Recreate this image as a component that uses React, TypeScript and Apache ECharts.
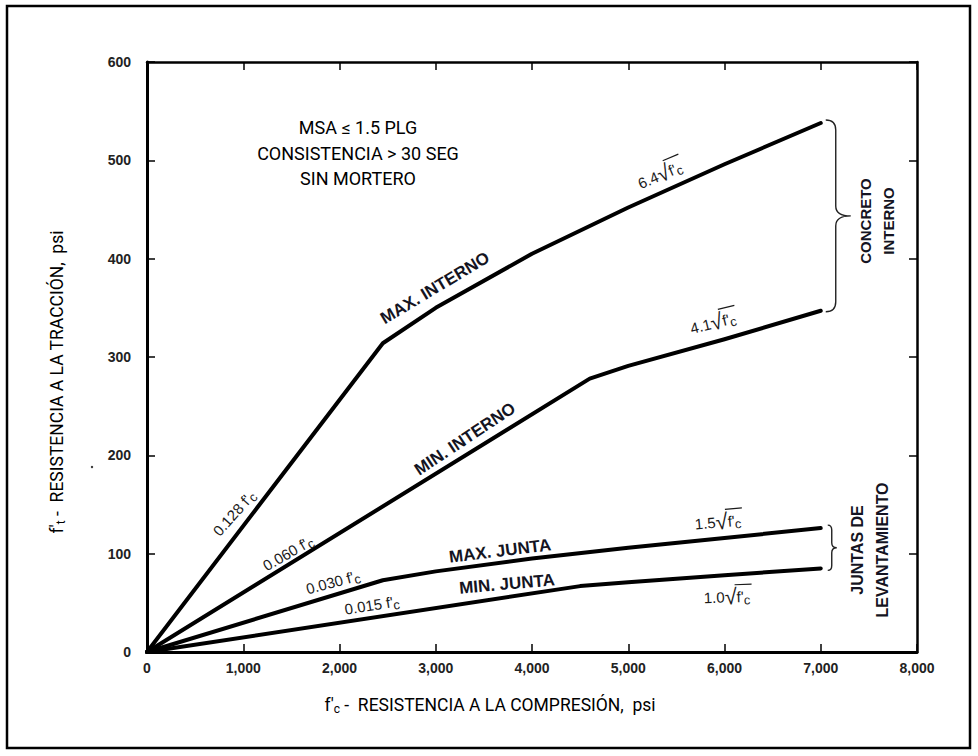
import React, { useEffect, useRef } from "react";
import * as echarts from "echarts";

// ---- data ----
const xTicks = [0, 1000, 2000, 3000, 4000, 5000, 6000, 7000, 8000];
const xTickLabels = ["0", "1,000", "2,000", "3,000", "4,000", "5,000", "6,000", "7,000", "8,000"];
const yTicks = [0, 100, 200, 300, 400, 500, 600];
const yTickLabels = ["0", "100", "200", "300", "400", "500", "600"];

const maxInternoFc = [0, 2450, 3000, 4000, 5000, 6000, 7000];
const maxInternoFt = [0, 314, 350, 405, 452, 496, 538];
const minInternoFc = [0, 4600, 5000, 6000, 7000];
const minInternoFt = [0, 278, 291, 318, 347];
const maxJuntaFc = [0, 2450, 3000, 4000, 5000, 6000, 7000];
const maxJuntaFt = [0, 73, 82, 95, 106, 116, 126];
const minJuntaFc = [0, 4500, 5000, 6000, 7000];
const minJuntaFt = [0, 67, 71, 78, 85];

const SANS = "'Liberation Sans Narrow', 'Roboto', 'Noto Sans', sans-serif";
const ARIAL = "'Liberation Sans', Arial, Helvetica, sans-serif";
const INK = "#141422";

const pair = (xs: number[], ys: number[]) => xs.map((x, i) => [x, ys[i]]);

function lineSeries(name: string, xs: number[], ys: number[]) {
  return {
    name,
    type: "line",
    data: pair(xs, ys),
    symbol: "none",
    showSymbol: false,
    silent: true,
    lineStyle: { color: "#000", width: 4, cap: "round", join: "round" },
    z: 5,
  };
}

function fcLabel(cx: number, cy: number, deg: number, coef: string) {
  return {
    type: "text",
    x: cx,
    y: cy,
    rotation: (deg * Math.PI) / 180,
    style: {
      text: `{n|${coef} f'}{s|c}`,
      rich: {
        n: { fontSize: 15, fontFamily: ARIAL, fill: "#1a1a1a" },
        s: { fontSize: 13, fontFamily: ARIAL, fill: "#1a1a1a", padding: [7, 0, 0, 0] },
      },
      align: "center",
      verticalAlign: "middle",
    },
    z: 10,
  };
}

function sqrtLabel(cx: number, cy: number, deg: number, coef: string) {
  return {
    type: "group",
    x: cx,
    y: cy,
    rotation: (deg * Math.PI) / 180,
    z: 10,
    children: [
      {
        type: "text",
        x: 0,
        y: 0,
        style: {
          text: `{n|${coef}}{r|√}{f|f'}{s|c}`,
          rich: {
            n: { fontSize: 15, fontFamily: ARIAL, fill: "#1a1a1a" },
            r: { fontSize: 22, fontFamily: ARIAL, fill: "#1a1a1a" },
            f: { fontSize: 15, fontFamily: ARIAL, fill: "#1a1a1a" },
            s: { fontSize: 13, fontFamily: ARIAL, fill: "#1a1a1a", padding: [7, 0, 0, 0] },
          },
          align: "center",
          verticalAlign: "middle",
        },
      },
      {
        type: "line",
        shape: { x1: 8, y1: -12, x2: 25, y2: -12 },
        style: { stroke: "#1a1a1a", lineWidth: 1.2 },
      },
    ],
  };
}

function boldLabel(cx: number, cy: number, deg: number, text: string, size = 17) {
  return {
    type: "text",
    x: cx,
    y: cy,
    rotation: (deg * Math.PI) / 180,
    style: {
      text,
      fontSize: size,
      fontWeight: "bold",
      fontFamily: ARIAL,
      fill: INK,
      align: "center",
      verticalAlign: "middle",
    },
    z: 10,
  };
}

function bracePath(x0: number, y1: number, y2: number, w: number, tip: number, r: number) {
  const m = (y1 + y2) / 2;
  return (
    `M ${x0} ${y1} Q ${x0 + w} ${y1} ${x0 + w} ${y1 + r} ` +
    `L ${x0 + w} ${m - r} Q ${x0 + w} ${m} ${x0 + w + tip} ${m} ` +
    `Q ${x0 + w} ${m} ${x0 + w} ${m + r} ` +
    `L ${x0 + w} ${y2 - r} Q ${x0 + w} ${y2} ${x0} ${y2}`
  );
}

const mkTick = () => ({ show: true, inside: true, length: 8, lineStyle: { color: "#000", width: 1.5 } });

export default function App() {
  const ref = useRef<HTMLDivElement>(null);

  useEffect(() => {
    const chart = echarts.init(ref.current!, null, { renderer: "svg" });

    const option: any = {
      animation: false,
      backgroundColor: "#fff",
      grid: { left: 147, right: 61, top: 62, bottom: 104, containLabel: false },
      xAxis: [
        {
          type: "value",
          min: 0,
          max: 8000,
          interval: 1000,
          position: "bottom",
          axisLine: { show: true, onZero: false, lineStyle: { color: "#000", width: 3 } },
          axisTick: mkTick(),
          splitLine: { show: false },
          axisLabel: {
            margin: 9,
            fontSize: 14,
            fontWeight: "bold",
            fontFamily: ARIAL,
            color: "#222",
            formatter: (v: number) => xTickLabels[xTicks.indexOf(v)] ?? "",
          },
        },
        {
          type: "value",
          min: 0,
          max: 8000,
          interval: 1000,
          position: "top",
          axisLine: { show: true, onZero: false, lineStyle: { color: "#000", width: 2.5 } },
          axisTick: mkTick(),
          splitLine: { show: false },
          axisLabel: { show: false },
        },
      ],
      yAxis: [
        {
          type: "value",
          min: 0,
          max: 600,
          interval: 100,
          position: "left",
          axisLine: { show: true, onZero: false, lineStyle: { color: "#000", width: 3 } },
          axisTick: mkTick(),
          splitLine: { show: false },
          axisLabel: {
            margin: 16,
            fontSize: 14,
            fontWeight: "bold",
            fontFamily: ARIAL,
            color: "#222",
            formatter: (v: number) => yTickLabels[yTicks.indexOf(v)] ?? "",
          },
        },
        {
          type: "value",
          min: 0,
          max: 600,
          interval: 100,
          position: "right",
          axisLine: { show: true, onZero: false, lineStyle: { color: "#000", width: 2.5 } },
          axisTick: mkTick(),
          splitLine: { show: false },
          axisLabel: { show: false },
        },
      ],
      series: [
        lineSeries("MAX. INTERNO", maxInternoFc, maxInternoFt),
        lineSeries("MIN. INTERNO", minInternoFc, minInternoFt),
        lineSeries("MAX. JUNTA", maxJuntaFc, maxJuntaFt),
        lineSeries("MIN. JUNTA", minJuntaFc, minJuntaFt),
      ],
    };
    chart.setOption(option);

    const px = (x: number, y: number) =>
      chart.convertToPixel({ xAxisIndex: 0, yAxisIndex: 0 }, [x, y]) as number[];
    const last = (a: number[]) => a[a.length - 1];
    const pMaxI = px(last(maxInternoFc), last(maxInternoFt));
    const pMinI = px(last(minInternoFc), last(minInternoFt));
    const pMaxJ = px(last(maxJuntaFc), last(maxJuntaFt));
    const pMinJ = px(last(minJuntaFc), last(minJuntaFt));

    echarts.graphic.registerShape(
      "braceConcreto",
      echarts.graphic.extendPath(
        bracePath(Math.max(pMaxI[0], pMinI[0]) + 5, pMaxI[1] - 3, pMinI[1] + 1, 10, 15, 10),
        {}
      ) as any
    );
    echarts.graphic.registerShape(
      "braceJuntas",
      echarts.graphic.extendPath(
        bracePath(Math.max(pMaxJ[0], pMinJ[0]) + 7, pMaxJ[1] - 3, pMinJ[1] + 2, 4, 5, 5),
        {}
      ) as any
    );

    const graphic: any[] = [
      {
        type: "rect",
        shape: { x: 7, y: 6, width: 963, height: 742 },
        style: { fill: "none", stroke: "#000", lineWidth: 2.5 },
        z: 1,
      },
      { type: "braceConcreto", x: 0, y: 0, style: { fill: "none", stroke: "#222", lineWidth: 1.4 }, z: 9 },
      { type: "braceJuntas", x: 0, y: 0, style: { fill: "none", stroke: "#222", lineWidth: 1.4 }, z: 9 },
      // conditions note
      {
        type: "text",
        x: 358,
        y: 153,
        style: {
          text: "MSA ≤ 1.5 PLG\nCONSISTENCIA > 30 SEG\nSIN MORTERO",
          fontSize: 18,
          lineHeight: 25.5,
          fontFamily: SANS,
          fill: "#000",
          align: "center",
          verticalAlign: "middle",
        },
        z: 10,
      },
      // axis titles
      {
        type: "text",
        x: 57,
        y: 382,
        rotation: Math.PI / 2,
        style: {
          text: "{a|f'}{s|t}{a| -  RESISTENCIA A LA TRACCIÓN,  psi}",
          rich: {
            a: { fontSize: 17.5, fontFamily: SANS, fill: "#000" },
            s: { fontSize: 12, fontFamily: SANS, fill: "#000", padding: [8, 0, 0, 0] },
          },
          align: "center",
          verticalAlign: "middle",
        },
        z: 10,
      },
      {
        type: "text",
        x: 490,
        y: 705,
        style: {
          text: "{a|f'}{s|c}{a| -  RESISTENCIA A LA COMPRESIÓN,  psi}",
          rich: {
            a: { fontSize: 17.5, fontFamily: SANS, fill: "#000" },
            s: { fontSize: 12, fontFamily: SANS, fill: "#000", padding: [8, 0, 0, 0] },
          },
          align: "center",
          verticalAlign: "middle",
        },
        z: 10,
      },
      // line labels
      fcLabel(234, 513, 48, "0.128"),
      fcLabel(288, 553, 30, "0.060"),
      fcLabel(333, 582, 15, "0.030"),
      fcLabel(372, 605, 9, "0.015"),
      boldLabel(435, 288, 31, "MAX. INTERNO"),
      boldLabel(465, 439, 33.5, "MIN. INTERNO"),
      boldLabel(500, 551, 7, "MAX. JUNTA"),
      boldLabel(507, 584, 5, "MIN. JUNTA"),
      sqrtLabel(660, 175, 23, "6.4"),
      sqrtLabel(713, 323, 14, "4.1"),
      sqrtLabel(718, 522, 5, "1.5"),
      sqrtLabel(727, 597, 2, "1.0"),
      // group labels
      boldLabel(865, 221, 90, "CONCRETO", 15),
      boldLabel(888, 221, 90, "INTERNO", 15),
      boldLabel(857, 550, 90, "JUNTAS DE", 16),
      boldLabel(882, 550, 90, "LEVANTAMIENTO", 16),
      { type: "circle", shape: { cx: 92, cy: 467, r: 1.2 }, style: { fill: "#333" }, z: 10 },
    ];
    chart.setOption({ graphic });

    return () => chart.dispose();
  }, []);

  return (
    <div
      ref={ref}
      style={{ position: "fixed", left: 0, top: 0, width: 978, height: 756, background: "#fff" }}
    />
  );
}
